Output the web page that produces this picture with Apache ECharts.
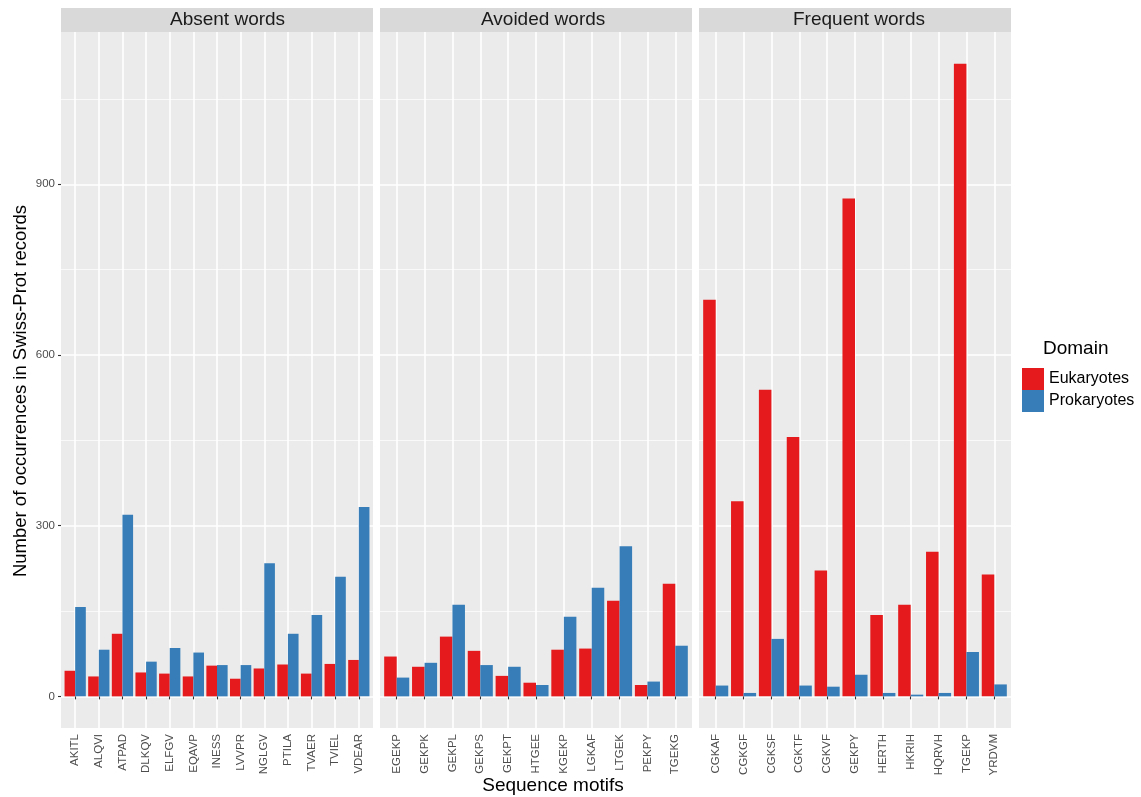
<!DOCTYPE html>
<html>
<head>
<meta charset="utf-8">
<script src="https://cdn.jsdelivr.net/npm/echarts@6/dist/echarts.min.js"></script>
<style>
html,body{margin:0;padding:0;background:#fff;}
#chart{width:1141px;height:797px;}
</style>
</head>
<body>
<div id="chart"></div>
<script>
// ---- data ----
const facetNames = ['Absent words', 'Avoided words', 'Frequent words'];
const seriesNames = ['Eukaryotes', 'Prokaryotes'];

const absentCats = ['AKITL','ALQVI','ATPAD','DLKQV','ELFGV','EQAVP','INESS','LVVPR','NGLGV','PTILA','TVAER','TVIEL','VDEAR'];
const absentEuk  = [45, 35, 110, 42, 40, 35, 54, 31, 49, 56, 40, 57, 64];
const absentPro  = [157, 82, 319, 61, 85, 77, 55, 55, 234, 110, 143, 210, 333];

const avoidedCats = ['EGEKP','GEKPK','GEKPL','GEKPS','GEKPT','HTGEE','KGEKP','LGKAF','LTGEK','PEKPY','TGEKG'];
const avoidedEuk  = [70, 52, 105, 80, 36, 24, 82, 84, 168, 20, 198];
const avoidedPro  = [33, 59, 161, 55, 52, 20, 140, 191, 264, 26, 89];

const frequentCats = ['CGKAF','CGKGF','CGKSF','CGKTF','CGKVF','GEKPY','HERTH','HKRIH','HQRVH','TGEKP','YRDVM'];
const frequentEuk  = [697, 343, 539, 456, 221, 875, 143, 161, 254, 1112, 214];
const frequentPro  = [19, 6, 101, 19, 17, 38, 6, 3, 6, 78, 21];

const yTicks = [0, 300, 600, 900];
const yMinorTicks = [150, 450, 750, 1050];

// ---- layout / style ----
const FONT = 'Liberation Sans, Arial, sans-serif';
const colors = ['#E41A1C', '#377EB8'];
const panelLefts = [61, 380, 699];
const stripTextLefts = [170, 481, 793];
const panelWidth = 312;
const panelTop = 32;
const panelBottom = 728;
const stripTop = 8;

const facets = [
  {cats: absentCats, euk: absentEuk, pro: absentPro},
  {cats: avoidedCats, euk: avoidedEuk, pro: avoidedPro},
  {cats: frequentCats, euk: frequentEuk, pro: frequentPro}
];

// ggplot-like continuous expansion (5% each side)
let dMax = 0;
facets.forEach(f => { dMax = Math.max(dMax, ...f.euk, ...f.pro); });
const yMin = -0.05 * dMax;
const yMax = 1.05 * dMax;

const grid = [], xAxis = [], yAxis = [], series = [], graphic = [];

facets.forEach((f, p) => {
  const n = f.cats.length;
  const L = panelLefts[p];
  const unit = panelWidth / (n + 0.2); // ggplot discrete expansion 0.6 each side
  const bgIdx = grid.length;
  grid.push({left: L, top: panelTop, width: panelWidth, height: panelBottom - panelTop,
    show: true, backgroundColor: '#EBEBEB', borderWidth: 0, containLabel: false});
  const barIdx = grid.length;
  grid.push({left: L + 0.1 * unit, top: panelTop, width: n * unit, height: panelBottom - panelTop,
    show: false, containLabel: false});

  xAxis.push({type: 'value', gridIndex: bgIdx, min: 0, max: 1, show: false});
  yAxis.push({
    type: 'value', gridIndex: bgIdx, min: yMin, max: yMax,
    axisLine: {show: false},
    axisTick: {show: p === 0, length: 3, lineStyle: {color: '#333333', width: 1.1}, customValues: yTicks},
    axisLabel: {show: p === 0, customValues: yTicks, color: '#4D4D4D', fontSize: 11.5, fontFamily: FONT, margin: 6},
    splitLine: {show: true, lineStyle: {color: '#FFFFFF', width: 1.6}}
  });
  yAxis.push({
    type: 'value', gridIndex: bgIdx, min: yMin, max: yMax,
    axisLine: {show: false},
    axisTick: {show: false, customValues: yMinorTicks},
    axisLabel: {show: false, customValues: yMinorTicks},
    splitLine: {show: true, lineStyle: {color: '#FFFFFF', width: 0.7}}
  });

  const xCat = xAxis.length;
  xAxis.push({
    type: 'category', gridIndex: barIdx, data: f.cats, boundaryGap: true,
    axisLine: {show: false},
    axisTick: {show: true, alignWithLabel: true, length: 3, lineStyle: {color: '#333333', width: 1.1}},
    axisLabel: {rotate: 90, color: '#4D4D4D', fontSize: 11.5, fontFamily: FONT, margin: 6, interval: 0},
    splitLine: {show: false}
  });
  xAxis.push({
    type: 'value', gridIndex: barIdx, min: -0.5, max: n - 0.5,
    axisLine: {show: false}, axisLabel: {show: false},
    axisTick: {show: false, customValues: f.cats.map((c, i) => i)},
    splitLine: {show: true, lineStyle: {color: '#FFFFFF', width: 1.6}}
  });
  const yBar = yAxis.length;
  yAxis.push({type: 'value', gridIndex: barIdx, min: yMin, max: yMax, show: false});

  [f.euk, f.pro].forEach((vals, s) => {
    series.push({
      type: 'bar', name: seriesNames[s], xAxisIndex: xCat, yAxisIndex: yBar,
      data: vals, barWidth: '45%', barGap: '0%',
      itemStyle: {color: colors[s]}, silent: true, z: 3
    });
  });

  graphic.push({type: 'rect', left: L, top: stripTop, z: 10,
    shape: {width: panelWidth, height: panelTop - stripTop},
    style: {fill: '#D9D9D9'}});
  graphic.push({type: 'text', x: stripTextLefts[p], y: (stripTop + panelTop) / 2, z: 11,
    style: {text: facetNames[p], fill: '#1A1A1A', font: '19px ' + FONT, textAlign: 'left', textVerticalAlign: 'middle'}});
});

graphic.push({type: 'text', x: 553, y: 786, z: 11,
  style: {text: 'Sequence motifs', fill: '#000000', font: '19px ' + FONT, textAlign: 'center', textVerticalAlign: 'middle'}});
graphic.push({type: 'text', x: 21, y: 391, rotation: Math.PI / 2, z: 11,
  style: {text: 'Number of occurrences in Swiss-Prot records', fill: '#000000', font: '18.5px ' + FONT, textAlign: 'center', textVerticalAlign: 'middle'}});
graphic.push({type: 'text', x: 1043, y: 349, z: 11,
  style: {text: 'Domain', fill: '#000000', font: '19px ' + FONT, textAlign: 'left', textVerticalAlign: 'middle'}});

const chart = echarts.init(document.getElementById('chart'), null, {renderer: 'canvas'});
chart.setOption({
  animation: false,
  backgroundColor: '#FFFFFF',
  grid, xAxis, yAxis, series, graphic,
  legend: {
    data: seriesNames, orient: 'vertical', left: 1022, top: 368,
    itemWidth: 22, itemHeight: 22, itemGap: 0, icon: 'rect', padding: 0,
    selectedMode: false,
    textStyle: {fontSize: 16, color: '#000000', fontFamily: FONT}
  }
});
</script>
</body>
</html>
